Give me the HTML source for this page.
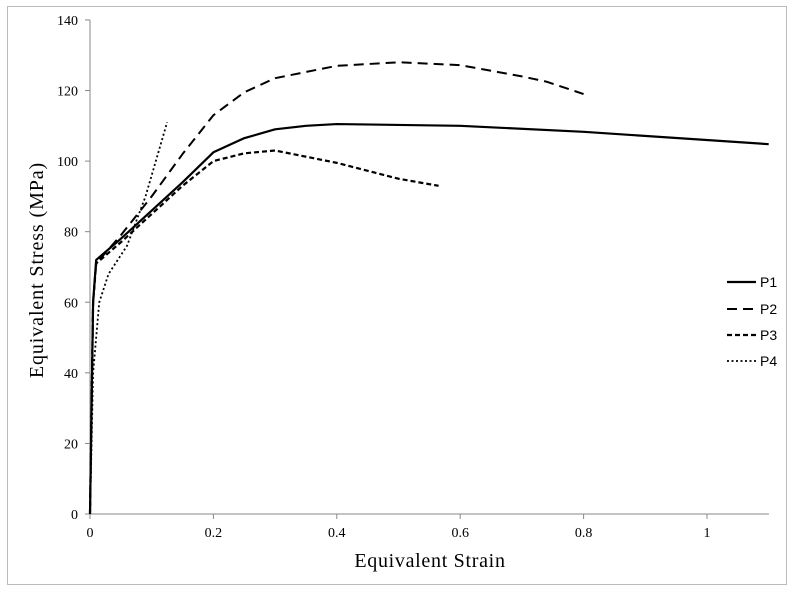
<!DOCTYPE html>
<html><head><meta charset="utf-8"><style>
body{margin:0;background:#fff}
svg text{font-family:"Liberation Serif",serif;fill:#000}
</style></head><body>
<svg width="794" height="591">
<rect x="7.5" y="6.5" width="779" height="578" fill="#fff" stroke="#bbb"/>
<g id="axes"></g><g id="series"></g><g id="legend"></g>
<text x="430" y="567" font-size="20" letter-spacing="0.7" text-anchor="middle">Equivalent Strain</text>
<text transform="translate(43,270) rotate(-90)" font-size="20" letter-spacing="0.9" text-anchor="middle">Equivalent  Stress  (MPa)</text>
</svg>
<script>
const xTicks=[0,0.2,0.4,0.6,0.8,1];
const yTicks=[0,20,40,60,80,100,120,140];
const seriesNames=["P1","P2","P3","P4"];
const p1x=[0,0.005,0.01,0.05,0.1,0.15,0.2,0.25,0.3,0.35,0.4,0.6,0.8,1.1];
const p1y=[0,60,72,78,86,94,102.5,106.5,109,110,110.5,110,108.3,104.8];
const p2x=[0,0.005,0.01,0.05,0.1,0.15,0.2,0.25,0.3,0.4,0.5,0.6,0.7,0.74,0.8];
const p2y=[0,60,71,79,90,102,113,119.5,123.5,127,128,127.2,124,122.5,119];
const p3x=[0,0.005,0.01,0.05,0.1,0.15,0.2,0.25,0.3,0.4,0.5,0.565];
const p3y=[0,60,71,77,85,93,100,102.2,103,99.5,95,93];
const p4x=[0,0.005,0.015,0.03,0.06,0.09,0.125];
const p4y=[0,40,60,68,76,90,111];
const NS="http://www.w3.org/2000/svg";
const X=v=>90+617*v, Y=v=>514-3.529*v;
function mk(t,a,p){const e=document.createElementNS(NS,t);for(const k in a)e.setAttribute(k,a[k]);p.appendChild(e);return e;}
const ax=document.getElementById('axes');
let e=mk('line',{x1:90,y1:20,x2:90,y2:514,stroke:'#888'},ax);


e=mk('line',{x1:90,y1:514,x2:769,y2:514,stroke:'#888'},ax);


yTicks.forEach(t=>{mk('line',{x1:85,x2:90,y1:Y(t),y2:Y(t),stroke:'#888'},ax);
const l=mk('text',{x:78,y:Y(t)+5,'font-size':14,'text-anchor':'end'},ax);l.textContent=t;

});
xTicks.forEach(t=>{mk('line',{x1:X(t),x2:X(t),y1:514,y2:519,stroke:'#888'},ax);
const l=mk('text',{x:X(t),y:537,'font-size':14,'text-anchor':'middle'},ax);l.textContent=t;

});
const styles=[{w:2.2,d:''},{w:2,d:'10,6'},{w:2.2,d:'5,3'},{w:1.8,d:'2,2.5'}];
const xs=[p1x,p2x,p3x,p4x], ys=[p1y,p2y,p3y,p4y];
const sg=document.getElementById('series'), lg=document.getElementById('legend');
const ly=[282,309,335,361];
xs.forEach((xa,i)=>{
const d=xa.map((v,j)=>(j?'L':'M')+X(v)+','+Y(ys[i][j])).join('');
const p=mk('path',{d:d,fill:'none',stroke:'#000','stroke-width':styles[i].w,'stroke-dasharray':styles[i].d,'stroke-linejoin':'round'},sg);


const g=mk('g',{},lg);


mk('line',{x1:727,x2:756,y1:ly[i],y2:ly[i],stroke:'#000','stroke-width':styles[i].w,'stroke-dasharray':styles[i].d},g);
const t=mk('text',{x:760,y:ly[i]+5,'font-size':14},g);t.textContent=seriesNames[i];
t.style.fontFamily='"Liberation Sans",sans-serif';
});
</script>
</body></html>
